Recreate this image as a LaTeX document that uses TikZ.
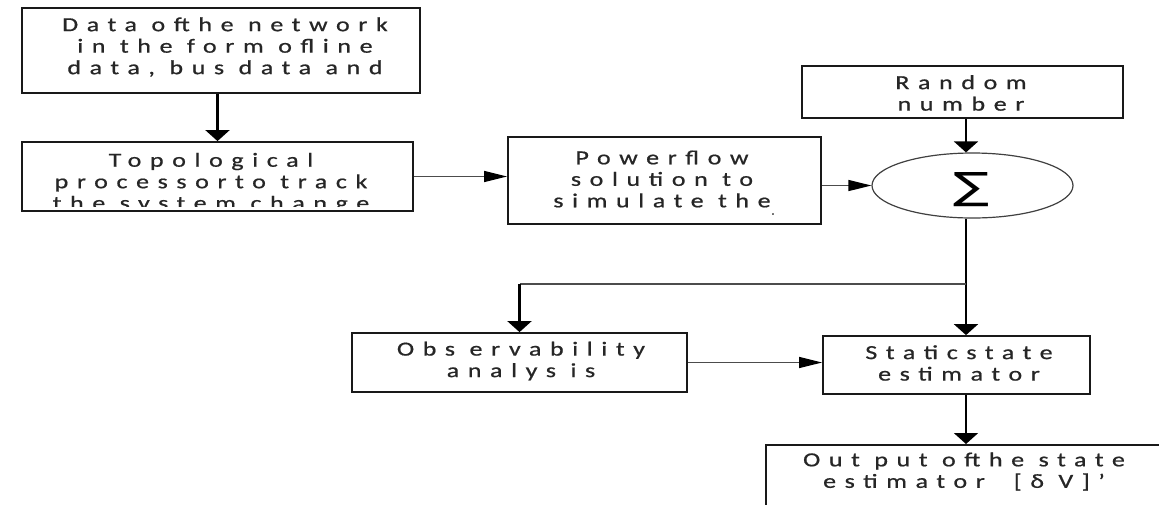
\documentclass[tikz,border=0pt]{standalone}
\usepackage{fontspec}
\usepackage{graphicx}
\setmainfont{Carlito}[FakeStretch=1.3,LetterSpace=43,FakeBold=0.7]
\newfontfamily\sigfont{DejaVu Sans}
\usetikzlibrary{shapes.geometric,arrows.meta}
\begin{document}
\begin{tikzpicture}[x=1pt,y=-1pt,
  box/.style={draw=black!90,line width=1.8pt,rectangle,inner sep=0pt},
  txt/.style={inner sep=0pt,align=center,font=\fontsize{20}{21.5}\selectfont,text=black!85},
  vconn/.style={line width=2.2pt,black,-{Triangle[length=11pt,width=24pt,color=black,fill=black]}},
  hconn/.style={line width=1.4pt,black!70,-{Triangle[length=23pt,width=11pt,color=black,fill=black]}},
  plain/.style={line width=1.4pt,black!70}]
\useasboundingbox (0,0) rectangle (1159,504);
\fill[white] (0,0) rectangle (1159,504);
\clip (0,0) rectangle (1159,504);

% boxes
\node[box,minimum width=398pt,minimum height=85pt] (data) at (221,50.5) {};
\node[txt] (datatxt) at (225,47) {Data ofthe network\\in the form ofline\\data, bus data and};

\node[box,minimum width=391pt,minimum height=69pt] (topo) at (217.5,176.5) {};
\begin{scope}
\clip (23,143) rectangle (412,206.5);
\node[txt] (topotxt) at (211,183) {Topological\\processorto track\\the system change};
\end{scope}

\node[box,minimum width=313pt,minimum height=87pt] (power) at (664.5,180.5) {};
\node[txt] (powertxt) at (662,179) {Powerflow\\solution to\\simulate the};
\node[txt,font=\fontsize{10}{12}\selectfont] (dot) at (773,214) {.};

\node[box,minimum width=321pt,minimum height=52pt] (random) at (962.5,92) {};
\node[txt] (randomtxt) at (961,93) {Random\\number};

\node[ellipse,draw=black!75,line width=1.2pt,minimum width=201pt,minimum height=65pt,inner sep=0pt] (sum) at (972.5,185.5) {};
\node[inner sep=0pt] (sigma) at (971,190) {\resizebox{36pt}{27pt}{\sigfont ∑}};

\node[box,minimum width=335pt,minimum height=59pt] (obs) at (519.5,362.5) {};
\node[txt] (obstxt) at (521,361) {Obs ervability\\analys is};

\node[box,minimum width=267pt,minimum height=58pt] (static) at (956.5,365) {};
\node[txt] (statictxt) at (959,363) {Staticstate\\estimator};

\node[box,minimum width=430pt,minimum height=100pt,anchor=north west] (out) at (765,444) {};
\node[txt] (outtxt) at (964,471.5) {Out put ofthe state\\estimator~~[δ V]'};

% connectors
\coordinate (col) at (966,0);
\coordinate (br) at (966,284);
\draw[vconn] (topo.north |- data.south) -- (topo.north);
\draw[hconn] (topo.east) -- (topo.east -| power.west);
\draw[hconn] (sum.west -| power.east) -- (sum.west);
\draw[vconn] (col |- random.south) -- (col |- sum.north);
\draw[vconn] (col |- sum.south) -- (col |- static.north);
\draw[plain] (br) -- (br -| obs.north);
\draw[vconn] (br -| obs.north) -- (obs.north);
\draw[hconn] (obs.east) -- (obs.east -| static.west);
\draw[vconn] (col |- static.south) -- (col |- out.north);
\end{tikzpicture}
\end{document}
